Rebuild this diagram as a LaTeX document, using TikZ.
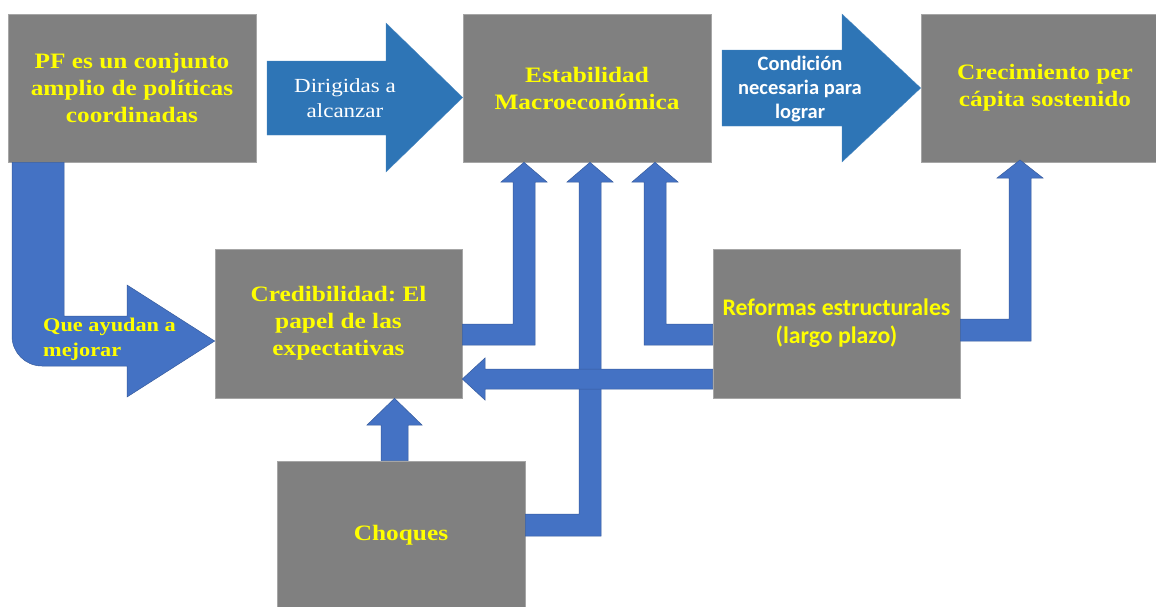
\documentclass[tikz,border=0pt]{standalone}
\usepackage{fontspec}
\setmainfont{Liberation Serif}[FakeStretch=1.15]
\newfontfamily\calib{Carlito}
\usetikzlibrary{calc}
\definecolor{boxgray}{HTML}{808080}
\definecolor{ylw}{HTML}{FFFF00}
\definecolor{lblue}{HTML}{4472C4}
\definecolor{dblue}{HTML}{2E75B6}
\frenchspacing
\begin{document}
\begin{tikzpicture}[x=1pt,y=-1pt,
  gbox/.style={fill=boxgray, draw=boxgray!70!white, line width=0.6pt,
    minimum width=248pt, minimum height=148pt, inner sep=0pt,
    text=ylw, font=\fontsize{22}{27}\selectfont\bfseries, align=center},
  sansbox/.style={gbox, font=\calib\fontsize{23.8}{28}\selectfont\bfseries},
  blk/.style={fill=lblue, draw=lblue!80!black, line width=0.5pt},
  bigarrow/.style={fill=dblue, draw=dblue!85!white, line width=0.3pt},
  wlabel/.style={text=white, align=center, inner sep=0pt},
]
\clip (0,0) rectangle (1156,606);
\fill[white] (0,0) rectangle (1156,606);

% boxes
\node[gbox] (pf) at (132,88) {PF es un conjunto\\amplio de políticas\\coordinadas};
\node[gbox] (estab) at (587,88) {Estabilidad\\Macroeconómica};
\node[gbox] (crec) at (1045,88) {Crecimiento per\\cápita sostenido};
\node[gbox, minimum width=247pt, minimum height=149pt] (cred) at (338.5,323.5) {Credibilidad: El\\papel de las\\expectativas};
\node[sansbox, minimum width=247pt, minimum height=149pt] (ref) at (836.5,323.5) {Reformas estructurales\\(largo plazo)};
\node[gbox] (choq) at (401,535) {Choques};

% big arrows
\draw[bigarrow] (267,61) -- (386,61) -- (386,23) -- (estab.west |- 0,97.5) -- (386,172) -- (386,135) -- (267,135) -- cycle;
\node[wlabel, font=\fontsize{20}{25}\selectfont] (dirig) at (345,98.5) {Dirigidas a\\alcanzar};
\draw[bigarrow] (722,50) -- (842,50) -- (842,14) -- (crec.west |- 0,88) -- (842,162) -- (842,126) -- (722,126) -- cycle;
\node[wlabel, font=\calib\fontsize{20.5}{24}\selectfont\bfseries] (cond) at (800,89) {Condición\\necesaria para\\lograr};

% PF -> Credibilidad (rounded L arrow)
\draw[blk] (12,0 |- pf.south) -- (12,336) .. controls (12,352.6) and (25.4,366) .. (42,366)
  -- (127,366) -- (127,397) -- (cred.west |- 0,341) -- (127,285) -- (127,316) -- (64,316)
  -- (64,0 |- pf.south) -- cycle;
\node[text=ylw, font=\fontsize{19.4}{25}\selectfont\bfseries, align=left, anchor=west, inner sep=0pt] (que) at (43,339.5) {Que ayudan a\\mejorar};

% Credibilidad -> Estabilidad
\draw[blk] (cred.east |- 0,324) -- (513,324) -- (513,182) -- (501,182) -- (524,0 |- estab.south)
  -- (547,182) -- (535,182) -- (535,345) -- (cred.east |- 0,345) -- cycle;

% Choques -> Estabilidad
\draw[blk] (choq.east |- 0,514) -- (579,514) -- (579,182) -- (567,182) -- (590,0 |- estab.south)
  -- (613,182) -- (601,182) -- (601,536) -- (choq.east |- 0,536) -- cycle;

% Reformas -> Estabilidad
\draw[blk] (ref.west |- 0,324) -- (666,324) -- (666,182) -- (678,182) -- (655,0 |- estab.south)
  -- (632,182) -- (644,182) -- (644,345) -- (ref.west |- 0,345) -- cycle;

% Reformas -> Credibilidad
\draw[blk] (ref.west |- 0,369) -- (485,369) -- (485,358) -- (cred.east |- 0,379) -- (485,400)
  -- (485,389) -- (ref.west |- 0,389) -- cycle;

% Choques -> Credibilidad
\draw[blk] (381,0 |- choq.north) -- (381,425) -- (367,425) -- (394.5,0 |- cred.south) -- (422,425)
  -- (408,425) -- (408,0 |- choq.north) -- cycle;

% Reformas -> Crecimiento
\draw[blk] (ref.east |- 0,319) -- (1009,319) -- (1009,178) -- (997,178) -- (1020,160) -- (1043,178)
  -- (1031,178) -- (1031,341) -- (ref.east |- 0,341) -- cycle;
\end{tikzpicture}
\end{document}
